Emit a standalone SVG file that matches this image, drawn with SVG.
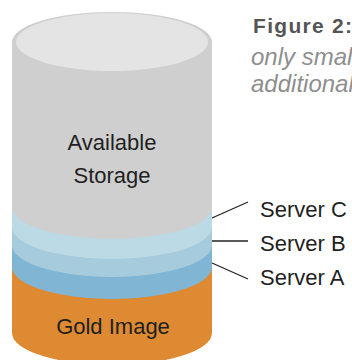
<svg xmlns="http://www.w3.org/2000/svg" width="352" height="360" viewBox="0 0 352 360">
<style>
.lbl{font-family:"Liberation Sans",Arial,sans-serif;font-size:22px;fill:#1f1f1f}
.ln{stroke:#222;stroke-width:1.3;fill:none}
.cap{font-family:"Liberation Sans",Arial,sans-serif}
.it{font-size:24px;font-style:italic;fill:#8e8e8e}
</style>
<rect width="352" height="360" fill="#ffffff"/>
<g id="gold-image">
<path d="M12,267 V333 A100,32 0 0 0 212,333 V267 Z" fill="#dd8a33"/>
<text class="lbl" x="113" y="334" text-anchor="middle">Gold Image</text>
</g>
<g id="server-a">
<path d="M12,245 V267 A100,32 0 0 0 212,267 V245 Z" fill="#80b6d4"/>
</g>
<g id="server-b">
<path d="M12,227 V245 A100,32 0 0 0 212,245 V227 Z" fill="#a6cbdc"/>
</g>
<g id="server-c">
<path d="M12,207 V227 A100,32 0 0 0 212,227 V207 Z" fill="#bcdae5"/>
</g>
<g id="available-storage">
<path d="M12,42 V207 A100,32 0 0 0 212,207 V42 A100,30 0 0 0 12,42 Z" fill="#cfcfcf"/>
<ellipse cx="112" cy="42" rx="96" ry="29" fill="#e4e4e4"/>
<text class="lbl" x="112" y="150" text-anchor="middle">Available</text>
<text class="lbl" x="112" y="183" text-anchor="middle">Storage</text>
</g>
<g id="connectors">
<line class="ln" x1="212" y1="218" x2="248" y2="202"/>
<line class="ln" x1="212" y1="241" x2="248" y2="241"/>
<line class="ln" x1="212" y1="263" x2="248" y2="279"/>
</g>
<g id="labels">
<text class="lbl" x="260" y="217">Server C</text>
<text class="lbl" x="260" y="251">Server B</text>
<text class="lbl" x="260" y="285">Server A</text>
</g>
<g id="caption">
<text class="cap" x="253" y="33" font-size="21" font-weight="bold" letter-spacing="1.3" fill="#555555">Figure 2:</text>
<text class="cap it" x="251" y="65">only small</text>
<text class="cap it" x="251" y="92">additional</text>
</g>
</svg>
